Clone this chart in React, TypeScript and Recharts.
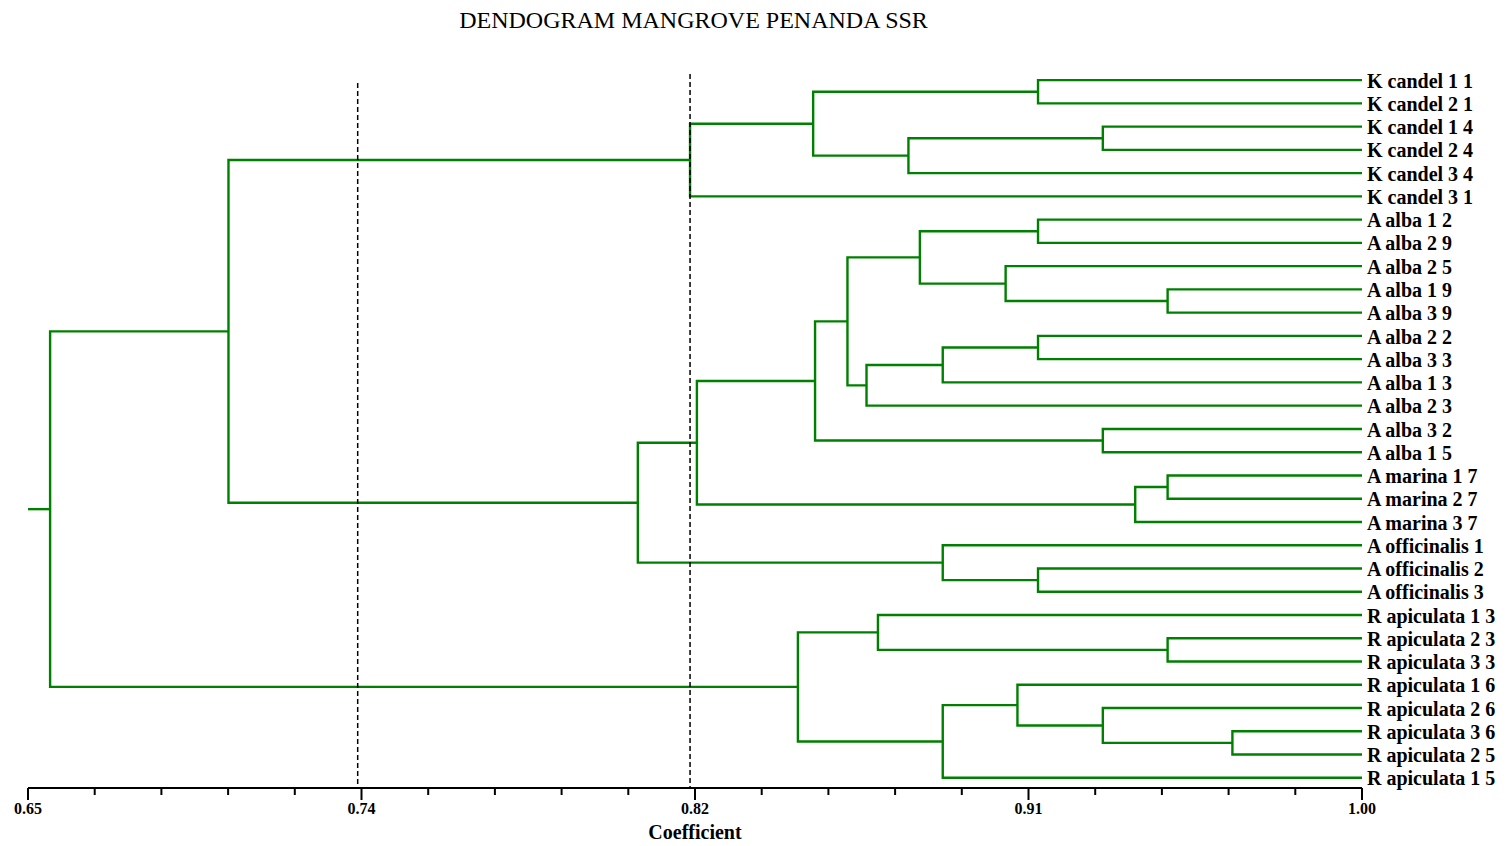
import { ComposedChart, Line, XAxis, YAxis } from 'recharts'

// leaves, top to bottom
const leafLabels = [
  'K candel 1 1', 'K candel 2 1', 'K candel 1 4', 'K candel 2 4', 'K candel 3 4', 'K candel 3 1',
  'A alba 1 2', 'A alba 2 9', 'A alba 2 5', 'A alba 1 9', 'A alba 3 9', 'A alba 2 2',
  'A alba 3 3', 'A alba 1 3', 'A alba 2 3', 'A alba 3 2', 'A alba 1 5',
  'A marina 1 7', 'A marina 2 7', 'A marina 3 7',
  'A officinalis 1', 'A officinalis 2', 'A officinalis 3',
  'R apiculata 1 3', 'R apiculata 2 3', 'R apiculata 3 3', 'R apiculata 1 6',
  'R apiculata 2 6', 'R apiculata 3 6', 'R apiculata 2 5', 'R apiculata 1 5',
]

// [childA, childB, coefficient]; ids 0..30 are leaves, merge k becomes id 31 + k
const merges: [number, number, number][] = [
  [0, 1, 0.915], [2, 3, 0.932], [32, 4, 0.881], [31, 33, 0.856], [34, 5, 0.8237],
  [6, 7, 0.915], [9, 10, 0.949], [8, 37, 0.9065], [36, 38, 0.884],
  [11, 12, 0.915], [40, 13, 0.89], [41, 14, 0.87], [39, 42, 0.865],
  [15, 16, 0.932], [43, 44, 0.8565],
  [17, 18, 0.949], [46, 19, 0.9405], [45, 47, 0.8255],
  [21, 22, 0.915], [20, 49, 0.89], [48, 50, 0.81],
  [35, 51, 0.7026],
  [24, 25, 0.949], [23, 53, 0.873], [28, 29, 0.966], [27, 55, 0.932],
  [26, 56, 0.9096], [57, 30, 0.89], [54, 58, 0.852],
  [52, 59, 0.6558],
]

const axisTicks = [
  0.65, 0.6675, 0.685, 0.7025, 0.72, 0.7375, 0.755, 0.7725, 0.79, 0.8075, 0.825,
  0.8425, 0.86, 0.8775, 0.895, 0.9125, 0.93, 0.9475, 0.965, 0.9825, 1.0,
]
const majorTickLabels = ['0.65', '0.74', '0.82', '0.91', '1.00']

// dashed cut-off lines: coefficient and top (in leaf units)
const cutLines = [
  { c: 0.7365, top: 0.13 },
  { c: 0.8237, top: -0.26 },
]

const X_MIN = 0.65
const X_MAX = 1.0
const Y_MIN = -0.52
const Y_MAX = 30.44
const GREEN = '#008000'
const FONT = '"Liberation Serif", "Times New Roman", serif'

function buildBranches() {
  const ys: number[] = leafLabels.map((_, i) => i)
  const cs: number[] = leafLabels.map(() => X_MAX)
  const out = merges.map(([a, b, c]) => {
    const pts = [
      { x: cs[a], y: ys[a] },
      { x: c, y: ys[a] },
      { x: c, y: ys[b] },
      { x: cs[b], y: ys[b] },
    ]
    ys.push((ys[a] + ys[b]) / 2)
    cs.push(c)
    return pts
  })
  const root = ys.length - 1
  out.push([{ x: X_MIN, y: ys[root] }, { x: cs[root], y: ys[root] }])
  return out
}

const branches = buildBranches()

function CoefTick(props: any) {
  const { x, y, index } = props
  const major = index % 5 === 0
  return (
    <g>
      <line x1={x} y1={y} x2={x} y2={y + (major ? 12 : 7)} stroke="#000" strokeWidth={2} />
      {major && (
        <text x={x} y={y + 26} textAnchor="middle" fontSize={16} fontWeight="bold" fill="#000">
          {majorTickLabels[index / 5]}
        </text>
      )}
    </g>
  )
}

function LeafTick(props: any) {
  const { x, y, payload } = props
  return (
    <text x={x} y={y} dy="0.38em" textAnchor="start" fontSize={20} fontWeight="bold" fill="#000">
      {leafLabels[payload.value]}
    </text>
  )
}

export default function App() {
  return (
    <div style={{ position: 'absolute', left: 0, top: 0, width: 1506, height: 846, fontFamily: FONT, background: '#fff' }}>
      <div
        style={{
          position: 'absolute', left: 0, top: 8, width: 1387, textAlign: 'center',
          fontSize: 24, lineHeight: '24px', color: '#000',
        }}
      >
        DENDOGRAM MANGROVE PENANDA SSR
      </div>
      <ComposedChart width={1506} height={846} margin={{ top: 68, right: 0, bottom: 0, left: 28 }}>
        <XAxis
          type="number"
          dataKey="x"
          domain={[X_MIN, X_MAX]}
          ticks={axisTicks}
          interval={0}
          height={58}
          tickSize={0}
          tickMargin={0}
          tickLine={false}
          axisLine={{ stroke: '#000', strokeWidth: 2 }}
          tick={<CoefTick />}
          label={{ value: 'Coefficient', position: 'insideBottom', offset: 7, fontSize: 20, fontWeight: 'bold', fill: '#000' }}
        />
        <YAxis
          type="number"
          dataKey="y"
          orientation="right"
          reversed
          domain={[Y_MIN, Y_MAX]}
          ticks={leafLabels.map((_, i) => i)}
          interval={0}
          width={144}
          tickSize={5}
          tickMargin={0}
          tickLine={false}
          axisLine={false}
          tick={<LeafTick />}
        />
        {branches.map((pts, i) => (
          <Line
            key={'b' + i}
            data={pts}
            dataKey="y"
            type="linear"
            stroke={GREEN}
            strokeWidth={2.4}
            dot={false}
            activeDot={false}
            isAnimationActive={false}
          />
        ))}
        {cutLines.map((cl, i) => (
          <Line
            key={'cut' + i}
            data={[{ x: cl.c, y: cl.top }, { x: cl.c, y: Y_MAX }]}
            dataKey="y"
            type="linear"
            stroke="#000"
            strokeWidth={1.5}
            strokeDasharray="5 3"
            dot={false}
            activeDot={false}
            isAnimationActive={false}
          />
        ))}
      </ComposedChart>
    </div>
  )
}
